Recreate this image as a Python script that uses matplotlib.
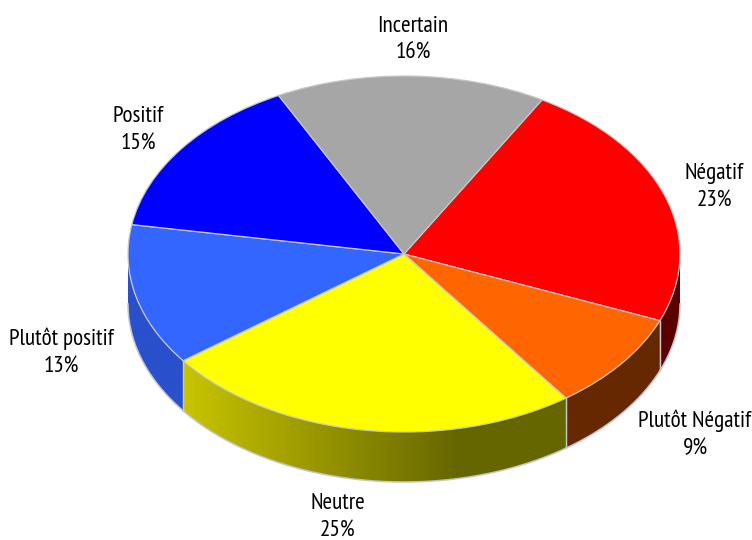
import numpy as np
import matplotlib
matplotlib.use("Agg")
import matplotlib.pyplot as plt
from matplotlib.patches import Polygon
from matplotlib import font_manager as fm

categories = ["Négatif", "Plutôt Négatif", "Neutre", "Plutôt positif", "Positif", "Incertain"]
values = [23, 9, 25, 13, 15, 16]
top_colors = ["#ff0000", "#ff6600", "#ffff00", "#3366ff", "#0000ff", "#a6a6a6"]
wall_left = ["#5a0000", "#662800", "#c8c400", "#2a50cc", "#00008c", "#707070"]
wall_right = ["#5a0000", "#662800", "#666600", "#2a50cc", "#00008c", "#707070"]
label_px = [(714, 187), (695, 434), (338, 517), (61, 352), (138, 130), (413, 40)]

W, H = 752, 540
CX, CY, RX, RY, DEPTH = 404, 254, 276, 178, 50
names = {f.name for f in fm.fontManager.ttflist}
font = next((n for n in ["PT Sans Narrow", "Fira Sans Extra Condensed", "Roboto Condensed",
                         "Liberation Sans Narrow", "Liberation Sans"] if n in names), "DejaVu Sans")

fig = plt.figure(figsize=(W / 100, H / 100), dpi=100, facecolor="white")
ax = fig.add_axes([0, 0, 1, 1])
wedges, _ = ax.pie(values, startangle=60, counterclock=False, radius=1, colors=top_colors,
                   wedgeprops=dict(edgecolor="#c8c8c8", linewidth=0.9))
for w in wedges:
    w.set_zorder(5)
ax.set_aspect("auto")
xlim = ((0 - CX) / RX, (W - CX) / RX)
ylim = ((CY - H) / RY, CY / RY)
d = DEPTH / RY

def rgb(c):
    return np.array(matplotlib.colors.to_rgb(c))

for w, cl, cr in zip(wedges, wall_left, wall_right):
    # visible wall = the part of the wedge's arc on the lower half of the ellipse
    spans = []
    for t1, t2 in [(w.theta1, w.theta2), (w.theta1 - 360, w.theta2 - 360), (w.theta1 + 360, w.theta2 + 360)]:
        a, b = max(t1, -180), min(t2, 0)
        if b > a:
            spans.append((a, b))
    for a, b in spans:
        th = np.radians(np.linspace(a, b, 200))
        top = np.column_stack([np.cos(th), np.sin(th)])
        bot = top[::-1] - [0, d]
        poly = Polygon(np.vstack([top, bot]), closed=True, facecolor="none",
                       edgecolor="none", zorder=2)
        ax.add_patch(poly)
        x0, x1 = np.cos(th).min(), np.cos(th).max()
        # gradient runs left to right, flat over the last part of the yellow wall
        ramp = np.clip((np.linspace(0, 1, 256)) / 0.72, 0, 1)[None, :, None]
        img = rgb(cl)[None, None, :] * (1 - ramp) + rgb(cr)[None, None, :] * ramp
        y0, y1 = np.sin(th).min() - d, np.sin(th).max()
        im = ax.imshow(img, extent=(x0, x1, y0, y1), aspect="auto", zorder=2, interpolation="bilinear")
        im.set_clip_path(poly)
        ax.plot(np.cos(th), np.sin(th) - d, color="#c4c4d0", lw=1.1, zorder=3)
        for t in (a, b):
            if -180 < t < 0:
                r = np.radians(t)
                ax.plot([np.cos(r)] * 2, [np.sin(r), np.sin(r) - d], color="#c8c8c8", lw=0.9, zorder=3)

ax.set_xlim(*xlim)
ax.set_ylim(*ylim)
ax.axis("off")

for cat, v, (px, py) in zip(categories, values, label_px):
    ax.text((px - CX) / RX, (CY - py) / RY, f"{cat}\n{v}%", ha="center", va="center",
            family=font, fontsize=16.7, color="black", linespacing=1.36, zorder=10)

fig.savefig("out.png", dpi=100)
